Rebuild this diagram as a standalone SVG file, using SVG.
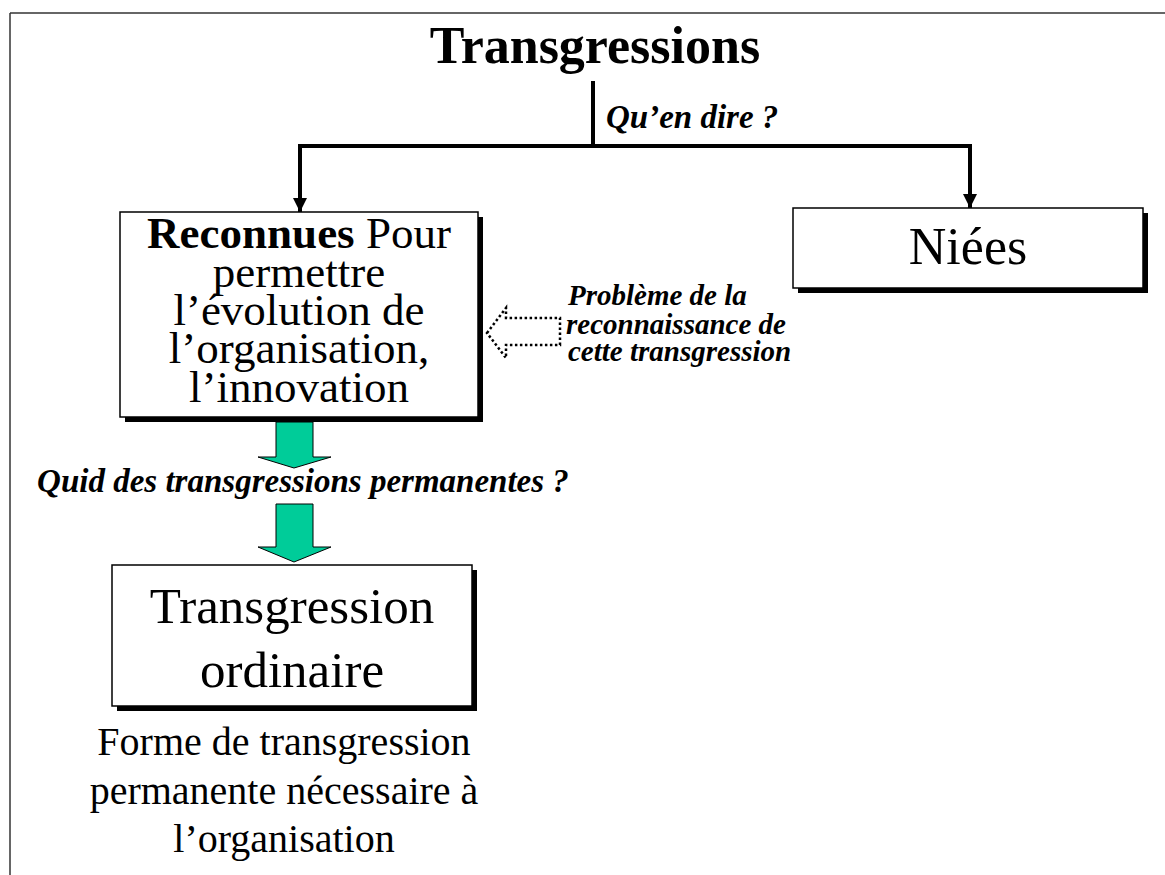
<svg xmlns="http://www.w3.org/2000/svg" width="1165" height="875" viewBox="0 0 1165 875">
<defs>
<style>
.t{font-family:"Liberation Serif","Times New Roman",serif;fill:#000}
.c{text-anchor:middle}
.bi{font-weight:bold;font-style:italic}
.b{font-weight:bold}
.box{fill:#fff;stroke:#000;stroke-width:1.5}
.sh{fill:#000}
.ln{fill:none;stroke:#000;stroke-width:4}
.green{fill:#00CC99;stroke:#000;stroke-width:1}
.dot{fill:none;stroke:#000;stroke-width:2.5;stroke-dasharray:2.5 2.5}
</style>
<marker id="ah" viewBox="0 0 10 10" refX="10" refY="5" markerWidth="3.6" markerHeight="3.6" orient="auto" markerUnits="strokeWidth">
<path d="M0,0 L10,5 L0,10 Z" fill="#000"/>
</marker>
</defs>
<rect width="1165" height="875" fill="#fff"/>
<g id="frame">
<line x1="10" y1="13" x2="1165" y2="13" stroke="#333" stroke-width="1.5"/>
<line x1="10" y1="13" x2="10" y2="875" stroke="#333" stroke-width="1.5"/>
</g>
<g id="title">
<text class="t b c" x="595" y="63" font-size="52">Transgressions</text>
</g>
<g id="connectors">
<path class="ln" d="M593,81 V146"/>
<path class="ln" d="M593,146 H300 V212" marker-end="url(#ah)"/>
<path class="ln" d="M593,146 H970 V208" marker-end="url(#ah)"/>
<text class="t bi" x="606" y="128" font-size="33">Qu’en dire ?</text>
<polygon class="green" points="276,422 313,422 313,457 331,457 294,468 258,457 276,457"/>
<text class="t bi c" x="303" y="492" font-size="33">Quid des transgressions permanentes ?</text>
<polygon class="green" points="276,504 313,504 313,547 331,547 294,562 258,547 276,547"/>
<polygon class="dot" points="487,333 506,308 506,318 560,318 560,345 506,345 506,358"/>
<text class="t bi" font-size="29"><tspan x="568" y="305">Problème de la</tspan><tspan x="566" y="334">reconnaissance de</tspan><tspan x="568" y="361">cette transgression</tspan></text>
</g>
<g id="node-reconnues">
<rect class="sh" x="125" y="217" width="358" height="205"/>
<rect class="box" x="120" y="212" width="358" height="205"/>
<text class="t c" font-size="45"><tspan x="299" y="248"><tspan font-weight="bold">Reconnues</tspan> Pour</tspan><tspan x="299" y="287">permettre</tspan><tspan x="299" y="325">l’évolution de</tspan><tspan x="299" y="363">l’organisation,</tspan><tspan x="299" y="402">l’innovation</tspan></text>
</g>
<g id="node-niees">
<rect class="sh" x="798" y="213" width="350" height="80"/>
<rect class="box" x="793" y="208" width="350" height="80"/>
<text class="t c" x="968" y="264" font-size="52">Niées</text>
</g>
<g id="node-ordinaire">
<rect class="sh" x="117" y="570" width="360" height="141"/>
<rect class="box" x="112" y="565" width="360" height="141"/>
<text class="t c" font-size="51"><tspan x="292" y="623">Transgression</tspan><tspan x="292" y="687">ordinaire</tspan></text>
</g>
<g id="note">
<text class="t c" font-size="40"><tspan x="284" y="755">Forme de transgression</tspan><tspan x="284" y="804">permanente nécessaire à</tspan><tspan x="284" y="852">l’organisation</tspan></text>
</g>
</svg>
